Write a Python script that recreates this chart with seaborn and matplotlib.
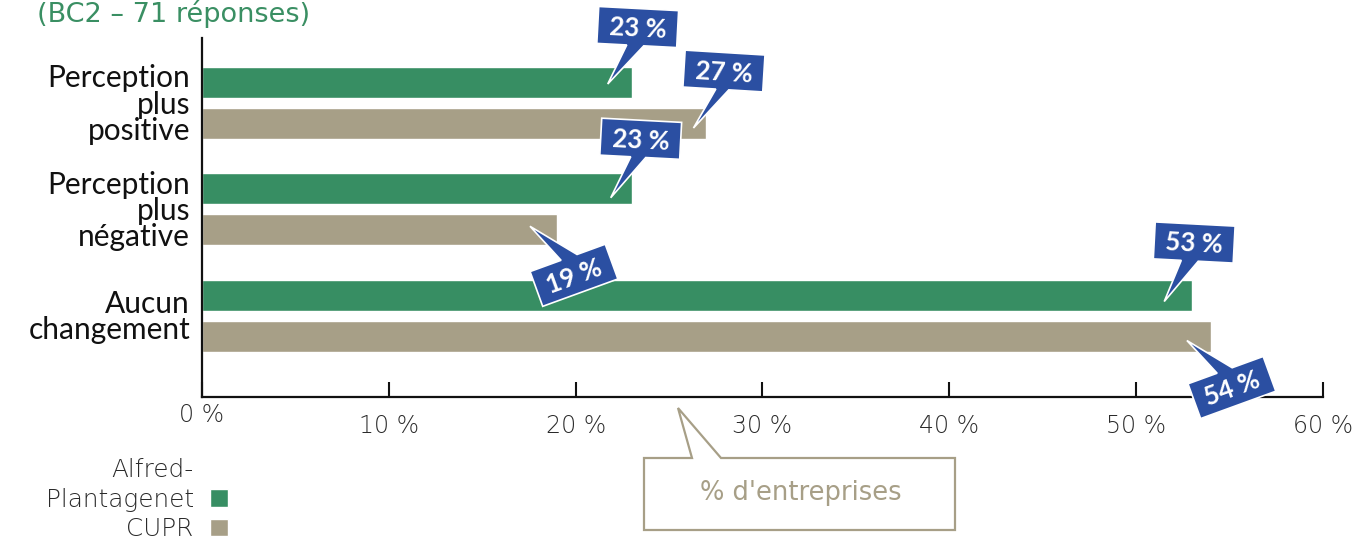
import numpy as np
import pandas as pd
import matplotlib
matplotlib.use("Agg")
import matplotlib.pyplot as plt
from matplotlib.patches import Polygon
from matplotlib.offsetbox import TextArea
import seaborn as sns

# ---------------- data ----------------
categories = ["Perception\nplus\npositive", "Perception\nplus\nnégative", "Aucun\nchangement"]
series = ["Alfred-Plantagenet", "CUPR"]
alfred_values = [23, 23, 53]
cupr_values = [27, 19, 54]
x_ticks = [0, 10, 20, 30, 40, 50, 60]
x_tick_labels = ["0 %", "10 %", "20 %", "30 %", "40 %", "50 %", "60 %"]
title_text = "(BC2 – 71 réponses)"
x_label = "% d'entreprises"

# ---------------- style ----------------
GREEN = "#378e63"
TAN = "#a79f87"
BLUE = "#2b4fa2"
TITLE_GREEN = "#3a8f63"
W, H = 1362, 542
WIDE = ['DejaVu Sans']
NARROW = ['Lato', 'DejaVu Sans']

sns.set_theme(style="white")
plt.rcParams['font.family'] = NARROW

df = pd.DataFrame({
    "category": categories * 2,
    "series": [series[0]] * len(categories) + [series[1]] * len(categories),
    "value": alfred_values + cupr_values,
})

fig = plt.figure(figsize=(W / 100, H / 100), dpi=100)
ax = fig.add_axes([202 / W, 1 - 397 / H, 1121 / W, 359 / H])
sns.barplot(data=df, x="value", y="category", hue="series", order=categories,
            hue_order=series, palette=[GREEN, TAN], saturation=1, errorbar=None,
            orient="h", width=0.772, gap=0.244, ax=ax)

ax.set_xlim(0, 60)
ax.set_ylim(2.767, -0.612)
ax.set_ylabel("")
ax.set_xticks(x_ticks)
ax.set_xticklabels(x_tick_labels)
ax.tick_params(axis='x', direction='in', length=10.8, width=1.5, color='#111',
               pad=12.5, labelsize=17, labelcolor='#2a2a2a', bottom=True)
for t in ax.get_xticklabels():
    t.set_family(WIDE)
    t.set_fontweight('light')
ax.xaxis.get_major_ticks()[0].set_pad(4)

ax.tick_params(axis='y', length=0, pad=8.6, labelsize=21.5, labelcolor='#111')
for t in ax.get_yticklabels():
    t.set_multialignment('right')
    t.set_linespacing(0.93)

for side in ['top', 'right']:
    ax.spines[side].set_visible(False)
for side in ['left', 'bottom']:
    ax.spines[side].set_linewidth(1.6)
    ax.spines[side].set_color('#111')

# x label inside a callout box
ax.set_xlabel(x_label, fontsize=18.5, color=TAN, family=WIDE)
ax.xaxis.set_label_coords((801 - 202) / 1121, (397 - 500) / 359)
ax.xaxis.label.set_va('baseline')


def img_to_fig(pts):
    return [(x / W, 1 - y / H) for x, y in pts]


box_pts = [(644, 458), (692, 458), (678, 408), (721, 458), (955, 458), (955, 530), (644, 530)]
fig.add_artist(Polygon(img_to_fig(box_pts), closed=True, transform=fig.transFigure,
                       facecolor='white', edgecolor=TAN, lw=1.6, zorder=-1))

# title
fig.text(37 / W, 1 - 22 / H, title_text, fontsize=19.5, color=TITLE_GREEN,
         va='baseline', ha='left', family=WIDE)


# value callouts
def callout(tip, center, angle_deg, tail_side, b1, b2, text, w=80, h=37):
    a = np.deg2rad(angle_deg)
    c, s = np.cos(a), np.sin(a)

    def tr(px, py):
        return (center[0] + px * c - py * s, center[1] + px * s + py * c)

    TL, TR, BR, BL = tr(-w / 2, -h / 2), tr(w / 2, -h / 2), tr(w / 2, h / 2), tr(-w / 2, h / 2)
    if tail_side == 'bottom':
        pts = [TL, TR, BR, tr(b2, h / 2), tip, tr(b1, h / 2), BL]
    else:
        pts = [TL, tr(b1, -h / 2), tip, tr(b2, -h / 2), TR, BR, BL]
    fig.add_artist(Polygon(img_to_fig(pts), closed=True, transform=fig.transFigure,
                           facecolor=BLUE, edgecolor='white', lw=1.2, zorder=10))
    fig.text(center[0] / W, 1 - (center[1] + 1.5) / H, text, rotation=-angle_deg,
             rotation_mode='anchor', ha='center', va='center', color='white',
             fontsize=18.5, fontweight='bold', zorder=11)


callout_layout = {
    (0, 0): dict(side='bottom', inside=24, dy=1.5, off=(30, -57), angle=3, b=(-10, 7)),
    (1, 0): dict(side='bottom', inside=13, dy=4.5, off=(30.5, -57), angle=3.5, b=(-7, 6)),
    (0, 1): dict(side='bottom', inside=21, dy=9, off=(30, -59), angle=3, b=(-9, 6)),
    (1, 1): dict(side='top', inside=27, dy=-3.5, off=(44, 49), angle=-20, b=(-7, 10)),
    (0, 2): dict(side='bottom', inside=28, dy=6.5, off=(30, -59), angle=3, b=(-12, 5)),
    (1, 2): dict(side='top', inside=24, dy=4.5, off=(45, 47), angle=-20, b=(-9, 7)),
}

for si, cont in enumerate(ax.containers):
    for bar in cont:
        val = bar.get_width()
        yc = bar.get_y() + bar.get_height() / 2
        ci = int(round(yc))
        xd, yd = ax.transData.transform((val, yc))
        bx, by = xd, H - yd
        L = callout_layout[(si, ci)]
        tip = (bx - L['inside'], by + L['dy'])
        center = (tip[0] + L['off'][0], tip[1] + L['off'][1])
        callout(tip, center, L['angle'], L['side'], L['b'][0], L['b'][1], f"{val:.0f} %")

# legend
leg = ax.get_legend()
handles = leg.legend_handles
leg.remove()
legend_labels = [s.replace("-", "-\n") for s in series]
fl = fig.legend(handles, legend_labels, loc='upper right',
                bbox_to_anchor=(228 / W, 1 - 458 / H), markerfirst=False, frameon=False,
                prop=dict(family=WIDE, weight='light', size=17.8),
                handlelength=0.74, handleheight=0.74, handletextpad=0.65,
                labelspacing=0.22, borderpad=0, borderaxespad=0, labelcolor='#2a2a2a')
for t in fl.get_texts():
    t.set_multialignment('right')
    t.set_linespacing(1.3)


def no_multiline_baseline(box):
    for ch in box.get_children():
        if isinstance(ch, TextArea):
            ch._multilinebaseline = False
        elif hasattr(ch, 'get_children'):
            no_multiline_baseline(ch)


no_multiline_baseline(fl._legend_box)

fig.savefig("out.png", dpi=100)
